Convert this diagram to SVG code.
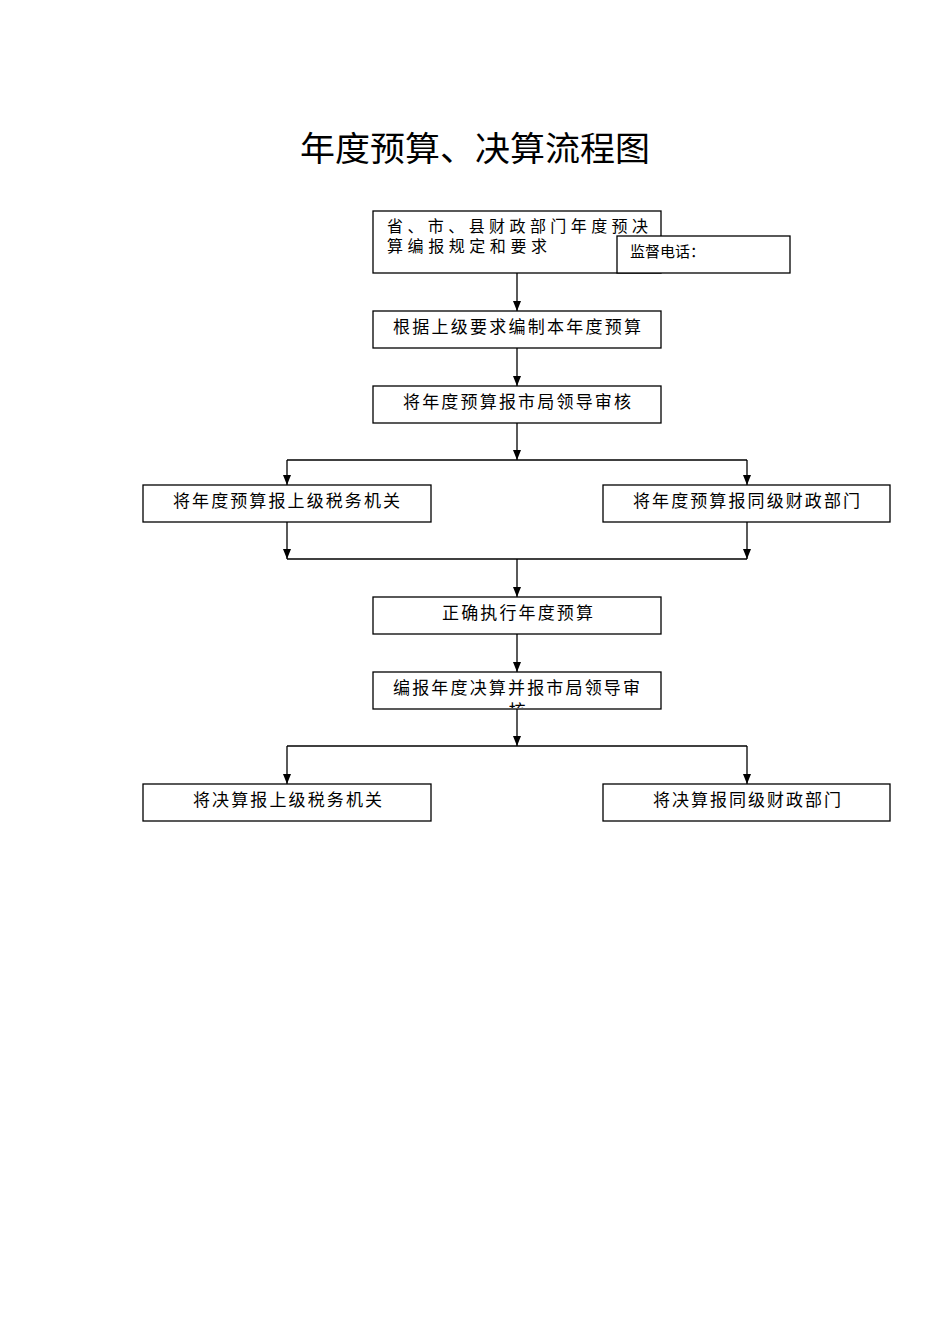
<svg xmlns="http://www.w3.org/2000/svg" width="950" height="1344" viewBox="0 0 950 1344">
<style>
.box{fill:#fff;stroke:#000;stroke-width:1.3}
.t{font-family:"Noto Sans CJK SC","Noto Sans CJK JP",sans-serif;font-size:17px;fill:#000}
.c{fill:none;stroke:#000;stroke-width:1.3}
</style>
<defs>
<marker id="ar" viewBox="0 0 10 8" refX="10" refY="4" markerWidth="10" markerHeight="8" markerUnits="userSpaceOnUse" orient="auto"><path d="M0,0 L10,4 L0,8 Z" fill="#000"/></marker>
<clipPath id="clip6"><rect x="374" y="673" width="286" height="35"/></clipPath>
</defs>
<rect width="950" height="1344" fill="#fff"/>
<text x="475" y="161" text-anchor="middle" style="font-family:'Noto Sans CJK SC',sans-serif;font-size:34px" textLength="350" lengthAdjust="spacingAndGlyphs">年度预算、决算流程图</text>
<g id="connectors">
<path class="c" d="M517,273 V311" marker-end="url(#ar)"/>
<path class="c" d="M517,348 V386" marker-end="url(#ar)"/>
<path class="c" d="M517,423 V460" marker-end="url(#ar)"/>
<path class="c" d="M287,460 H747"/>
<path class="c" d="M287,460 V485" marker-end="url(#ar)"/>
<path class="c" d="M747,460 V485" marker-end="url(#ar)"/>
<path class="c" d="M287,522 V559" marker-end="url(#ar)"/>
<path class="c" d="M747,522 V559" marker-end="url(#ar)"/>
<path class="c" d="M287,559 H747"/>
<path class="c" d="M517,559 V597" marker-end="url(#ar)"/>
<path class="c" d="M517,634 V672" marker-end="url(#ar)"/>
<path class="c" d="M517,709 V746" marker-end="url(#ar)"/>
<path class="c" d="M287,746 H747"/>
<path class="c" d="M287,746 V784" marker-end="url(#ar)"/>
<path class="c" d="M747,746 V784" marker-end="url(#ar)"/>
</g>
<g id="n1">
<rect class="box" x="373" y="211" width="288" height="62"/>
<text class="t" x="387" y="232" style="font-size:16px" textLength="261" lengthAdjust="spacing">省、市、县财政部门年度预决</text>
<text class="t" x="387" y="252" style="font-size:16px" textLength="160" lengthAdjust="spacing">算编报规定和要求</text>
</g>
<g id="monitor">
<rect class="box" x="617" y="236" width="173" height="37"/>
<text class="t" x="630" y="257" style="font-size:15px">监督电话：</text>
</g>
<g id="n2">
<rect class="box" x="373" y="311" width="288" height="37"/>
<text class="t" x="393" y="333" textLength="248" lengthAdjust="spacing">根据上级要求编制本年度预算</text>
</g>
<g id="n3">
<rect class="box" x="373" y="386" width="288" height="37"/>
<text class="t" x="403" y="408" textLength="228" lengthAdjust="spacing">将年度预算报市局领导审核</text>
</g>
<g id="n4">
<rect class="box" x="143" y="485" width="288" height="37"/>
<text class="t" x="173" y="507" textLength="227" lengthAdjust="spacing">将年度预算报上级税务机关</text>
</g>
<g id="n5">
<rect class="box" x="603" y="485" width="287" height="37"/>
<text class="t" x="633" y="507" textLength="227" lengthAdjust="spacing">将年度预算报同级财政部门</text>
</g>
<g id="n6">
<rect class="box" x="373" y="597" width="288" height="37"/>
<text class="t" x="442" y="619" textLength="151" lengthAdjust="spacing">正确执行年度预算</text>
</g>
<g id="n7">
<rect class="box" x="373" y="672" width="288" height="37"/>
<text class="t" x="393" y="694" textLength="247" lengthAdjust="spacing">编报年度决算并报市局领导审</text>
<g clip-path="url(#clip6)"><text class="t" x="517" y="717" text-anchor="middle">核</text></g>
</g>
<g id="n8">
<rect class="box" x="143" y="784" width="288" height="37"/>
<text class="t" x="193" y="806" textLength="189" lengthAdjust="spacing">将决算报上级税务机关</text>
</g>
<g id="n9">
<rect class="box" x="603" y="784" width="287" height="37"/>
<text class="t" x="653" y="806" textLength="188" lengthAdjust="spacing">将决算报同级财政部门</text>
</g>
</svg>
